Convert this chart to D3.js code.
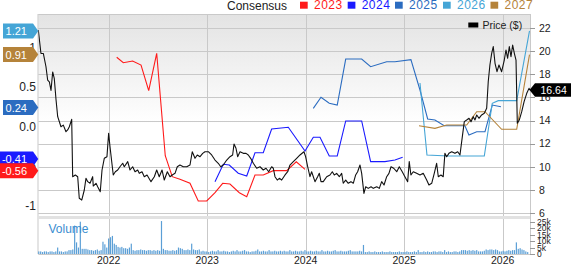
<!DOCTYPE html>
<html><head><meta charset="utf-8">
<script src="https://cdn.jsdelivr.net/npm/d3@7"></script>
<style>
html,body{margin:0;padding:0;background:#fff;}
svg{display:block;font-family:"Liberation Sans",Arial,sans-serif;}
</style></head>
<body><svg id="c" width="571" height="264"></svg>
<script>
// ---- data ----
const priceT = [2021.285,2021.312,2021.336,2021.363,2021.380,2021.397,2021.414,2021.431,2021.447,2021.465,
2021.482,2021.515,2021.539,2021.566,2021.583,2021.600,2021.624,2021.634,2021.661,2021.685,
2021.701,2021.726,2021.752,2021.769,2021.787,2021.810,2021.837,2021.843,2021.871,2021.888,
2021.914,2021.932,2021.955,2021.982,2021.999,2022.013,2022.046,2022.067,2022.091,2022.114,
2022.142,2022.158,2022.193,2022.216,2022.243,2022.267,2022.294,2022.310,2022.338,2022.361,
2022.389,2022.429,2022.463,2022.487,2022.513,2022.541,2022.564,2022.595,2022.622,2022.645,
2022.673,2022.696,2022.723,2022.757,2022.792,2022.825,2022.848,2022.876,2022.899,2022.927,
2022.954,2022.977,2023.011,2023.045,2023.079,2023.112,2023.137,2023.163,2023.198,2023.231,
2023.258,2023.272,2023.292,2023.309,2023.333,2023.366,2023.394,2023.417,2023.441,2023.468,
2023.502,2023.536,2023.569,2023.597,2023.624,2023.654,2023.671,2023.688,2023.711,2023.732,
2023.756,2023.790,2023.817,2023.840,2023.874,2023.908,2023.942,2023.982,2023.999,2024.020,
2024.043,2024.060,2024.094,2024.121,2024.138,2024.155,2024.178,2024.213,2024.246,2024.270,
2024.290,2024.314,2024.341,2024.365,2024.381,2024.406,2024.432,2024.459,2024.483,2024.507,
2024.527,2024.551,2024.568,2024.591,2024.609,2024.635,2024.663,2024.686,2024.721,2024.747,
2024.771,2024.795,2024.822,2024.845,2024.866,2024.893,2024.924,2024.950,2024.980,2025.007,
2025.035,2025.051,2025.068,2025.092,2025.126,2025.160,2025.193,2025.228,2025.251,2025.279,
2025.305,2025.329,2025.346,2025.373,2025.396,2025.413,2025.431,2025.454,2025.482,2025.515,
2025.543,2025.566,2025.590,2025.610,2025.634,2025.658,2025.678,2025.701,2025.718,2025.736,
2025.759,2025.786,2025.813,2025.837,2025.853,2025.870,2025.888,2025.904,2025.922,2025.942,
2025.962,2025.989,2026.016,2026.033,2026.050,2026.067,2026.084,2026.101,2026.118,2026.135,
2026.148,2026.168,2026.193,2026.217,2026.244,2026.267,2026.277];
const priceV = [21.83,19.8,19.8,18.65,17.5,17.35,16.6,18.2,17.65,15.8,
14.33,13.46,13.6,13.03,13.18,13.46,14.1,9.14,9.29,9.14,
7.27,7.12,7.99,9.0,8.71,8.57,9.14,8.33,8.57,8.27,
7.84,9.72,10.73,10.87,12.89,11.73,9.29,9.57,9.72,10.0,
10.3,10.0,10.44,9.72,10.0,9.57,9.72,9.43,9.57,9.14,
9.29,8.71,9.14,9.72,9.14,9.72,8.85,9.57,9.14,9.29,
9.43,10.0,10.15,10.0,10.0,10.15,11.3,10.73,11.02,10.87,
11.16,11.3,11.3,11.02,10.58,10.3,10.0,10.15,10.58,10.87,
11.02,11.97,11.6,10.87,11.3,11.16,11.16,11.02,10.73,10.3,
9.87,10.0,9.72,9.87,9.57,10.0,9.87,9.14,8.85,9.0,
8.85,9.29,9.57,10.15,10.44,10.73,11.02,11.3,10.87,10.0,
9.14,9.57,8.71,9.14,9.43,8.71,8.71,9.14,9.29,9.57,
9.29,9.43,9.14,9.43,8.57,8.85,8.57,8.71,8.57,9.29,
9.57,10.15,9.43,7.7,8.27,8.13,8.27,8.13,8.27,8.13,
8.71,8.42,9.14,9.43,10.0,9.87,9.57,10.0,9.57,9.14,
8.71,10.44,9.29,9.57,9.43,9.29,9.43,8.85,8.42,8.57,
9.43,10.3,9.14,9.29,9.14,11.16,10.87,11.16,11.3,11.16,
11.3,11.02,12.6,13.9,14.04,14.19,13.9,14.33,14.04,14.48,
14.19,14.48,14.62,15.05,17.35,18.8,19.81,20.4,18.95,18.22,
18.8,18.22,19.23,20.1,19.38,20.4,19.52,20.53,19.81,19.23,
13.76,14.04,14.76,15.63,16.35,16.78,16.64];

const eps2023T = [2022.081,2022.148,2022.243,2022.328,2022.406,2022.487,2022.574,2022.645,2022.723,2022.825,2022.909,2022.995,2023.079,2023.157,2023.231,2023.326,2023.401,2023.485,2023.569,2023.671,2023.807,2023.904,2023.993];
const eps2023V = [0.876,0.808,0.829,0.778,0.453,0.927,-0.37,-0.635,-0.668,-0.719,-0.943,-0.943,-0.838,-0.719,-0.728,-0.838,-0.889,-0.614,-0.614,-0.559,-0.559,-0.446,-0.542];
const eps2024T = [2023.079,2023.163,2023.224,2023.315,2023.401,2023.485,2023.569,2023.654,2023.823,2023.993,2024.077,2024.145,2024.239,2024.320,2024.406,2024.568,2024.659,2024.804,2024.906,2024.984];
const eps2024V = [-0.699,-0.478,-0.487,-0.592,-0.627,-0.332,-0.332,-0.032,-0.01,-0.31,-0.137,-0.137,-0.373,-0.373,0.07,0.07,-0.445,-0.445,-0.424,-0.39];
const eps2025T = [2024.077,2024.155,2024.239,2024.320,2024.406,2024.568,2024.659,2024.822,2024.906,2025.068,2025.160,2025.238,2025.312,2025.406,2025.616,2025.657,2025.736,2025.820,2025.894,2025.982];
const eps2025V = [0.23,0.37,0.294,0.272,0.854,0.854,0.757,0.82,0.82,0.847,0.462,0.095,0.082,0.01,0.01,-0.108,-0.066,-0.066,0.272,0.251];
const eps2026T = [2025.160,2025.231,2025.447,2025.813,2025.894,2025.955,2026.142,2026.272];
const eps2026V = [0.55,-0.361,-0.373,-0.373,0.294,0.327,0.327,1.21];
const eps2027T = [2025.150,2025.312,2025.431,2025.634,2025.736,2025.820,2025.989,2026.142,2026.272];
const eps2027V = [0.01,-0.023,0.019,0.019,0.187,0.187,-0.035,-0.035,0.91];

const seriesNames = ["2023","2024","2025","2026","2027"];
const seriesColors = ["#ff1a1a","#1a1aff","#2b6cc0","#45a5d6","#b5833a"];
const latestEps = [-0.56,-0.41,0.24,1.21,0.91];
const latestPrice = 16.64;

// weekly volume (thousands)
const volStart = 2021.29;
const volume = [2,2,1.5,2,2,1.5,2,2,1.5,2,
5,2,2,1.5,2,2,3,3,3.5,22,
9,5,25,4,4,4,3.5,3,3,2.5,
3,3.5,2.5,3,9.5,7.5,5,12,13,14,
8,7,5.5,5,5.5,4.5,4.5,4,5,8,
3,2.5,3,3,3.5,3,3,2.5,3,3,
2.5,3,2.5,3,2.5,25.5,4,3,3,2.5,
2.5,3,2.5,3,5,4.5,4,3,3,3.5,
3,8,3.5,3,3,3.5,2,2.5,2,2,
1.5,2,2.5,2,2,3,2,2,2.5,2,
2,1.5,2,2.5,2,3,2,2,2.5,3,
2,2,1.5,2,2,2.5,3.5,2,2,2.5,
2,2,3,2,2,2.5,2,2,2.5,2,
2.5,2,2,3,2,2,2.5,2,2,2.5,
2,3,2,2,2.5,2,2,2.5,2,2,
3,2,2,2.5,2,2,2.5,3,2,2,
2.5,2,2,2,2.5,3,2,2,2,2,
2.5,2,7,1.5,1.5,2,1.5,1.5,2,1.5,
1.5,1.5,2,1.5,1.5,1.5,2,1.5,1.5,1.5,
1.5,2,1.5,1.5,1.5,2,1.5,1.5,1.5,2,
1.5,3,1.5,1.5,2,1.5,2,1.5,1.5,2,
2,1.5,2,2,1.5,3,1.5,2,1.5,1.5,
2,2,1.5,2,3,3,3,2.5,3,2.5,
3,2.5,3,2,2,2,2.5,3.5,3,3.5,
3.5,3,3.5,3,2,2,2.5,2,2.5,3,
2.5,3,3,9,4,4.5,3.5,3,2,1.5];

const priceTicks = [6,8,10,12,14,16,18,20,22];
const epsTicks = [-1,-0.5,0,0.5,1];
const epsTickLabels = ["-1","-0.5","0.0","0.5","1"];
const volTicks = [0,5,10,15,20,25];
const volTickLabels = ["0","5k","10k","15k","20k","25k"];
const yearTicks = [2022,2023,2024,2025,2026];

// ---- layout ----
const L = 38.3, R = 530, T = 14, B = 213, VT = 219, VB = 254;
const svg = d3.select("#c");
const x = d3.scaleLinear().domain([2021.285, 2026.277]).range([L, R]);
const yP = d3.scaleLinear().domain([6, 22]).range([B, 28]);
const yE = d3.scaleLinear().domain([-1, 1]).range([205.5, 47.5]);
const yV = d3.scaleLinear().domain([0, 25]).range([VB, 221.7]);

const defs = svg.append("defs");
const g = defs.append("linearGradient").attr("id","bg").attr("x1",0).attr("y1",0).attr("x2",0).attr("y2",1);
g.append("stop").attr("offset","0%").attr("stop-color","#e3e3e3");
g.append("stop").attr("offset","55%").attr("stop-color","#ffffff");
g.append("stop").attr("offset","100%").attr("stop-color","#ffffff");
defs.append("clipPath").attr("id","clip").append("rect").attr("x",L).attr("y",T).attr("width",R-L).attr("height",B-T);

svg.append("rect").attr("x",L).attr("y",T).attr("width",R-L).attr("height",B-T).attr("fill","url(#bg)");

// gridlines
const grid = svg.append("g").attr("stroke","#c9c9c9").attr("stroke-width",1);
grid.selectAll("line.h").data(priceTicks).join("line")
  .attr("x1",L).attr("x2",R).attr("y1",d=>Math.round(yP(d))+0.5).attr("y2",d=>Math.round(yP(d))+0.5);
grid.selectAll("line.v").data(yearTicks).join("line")
  .attr("y1",T).attr("y2",VB).attr("x1",d=>Math.round(x(d))+0.5).attr("x2",d=>Math.round(x(d))+0.5);
grid.append("line").attr("x1",L).attr("x2",R).attr("y1",T+0.5).attr("y2",T+0.5);
grid.append("line").attr("x1",L-0.3).attr("x2",L-0.3).attr("y1",T).attr("y2",VB);
grid.append("line").attr("x1",R+0.5).attr("x2",R+0.5).attr("y1",T).attr("y2",VB);
// separator band
svg.append("rect").attr("x",L).attr("y",216).attr("width",R-L).attr("height",3).attr("fill","#e2e2e2");
svg.append("line").attr("x1",L).attr("x2",R).attr("y1",VB+0.5).attr("y2",VB+0.5).attr("stroke","#c9c9c9");

// volume bars
svg.append("g").selectAll("rect").data(volume).join("rect")
  .attr("x",(d,i)=>x(volStart + i/52.18)-0.6)
  .attr("width",1.2)
  .attr("y",d=>yV(d))
  .attr("height",d=>VB-yV(d))
  .attr("fill","#5b9fd6");
svg.append("text").attr("x",48.5).attr("y",232.5).attr("font-size",12).attr("fill","#3a8dd0").text("Volume");

// lines
const plot = svg.append("g").attr("clip-path","url(#clip)");
const epsT = [eps2023T,eps2024T,eps2025T,eps2026T,eps2027T];
const epsV = [eps2023V,eps2024V,eps2025V,eps2026V,eps2027V];
const lineE = d3.line().x(d=>x(d[0])).y(d=>yE(d[1]));
seriesNames.forEach((n,k)=>{
  plot.append("path").datum(d3.zip(epsT[k],epsV[k]))
    .attr("d",lineE).attr("fill","none").attr("stroke",seriesColors[k]).attr("stroke-width",1.1);
});
const lineP = d3.line().x(d=>x(d[0])).y(d=>yP(d[1]));
plot.append("path").datum(d3.zip(priceT,priceV)).attr("d",lineP)
  .attr("fill","none").attr("stroke","#111").attr("stroke-width",1.1).attr("stroke-linejoin","round");

// right axis
const ra = svg.append("g").attr("font-size",10.5).attr("fill","#222");
priceTicks.forEach(t=>{
  ra.append("line").attr("x1",R).attr("x2",R+5).attr("y1",Math.round(yP(t))+0.5).attr("y2",Math.round(yP(t))+0.5).attr("stroke","#999");
  ra.append("text").attr("x",539).attr("y",yP(t)+3.8).text(t);
});
const va = svg.append("g").attr("font-size",8.5).attr("fill","#222");
volTicks.forEach((t,i)=>{
  va.append("line").attr("x1",R).attr("x2",R+5).attr("y1",Math.round(yV(t))+0.5).attr("y2",Math.round(yV(t))+0.5).attr("stroke","#999");
  va.append("text").attr("x",537).attr("y",yV(t)+3).text(volTickLabels[i]);
});
// left axis
const la = svg.append("g").attr("font-size",12).attr("fill","#222").attr("text-anchor","end");
epsTicks.forEach((t,i)=>{
  la.append("text").attr("x",36).attr("y",yE(t)+4.2).text(epsTickLabels[i]);
});
// bottom axis
svg.append("g").attr("font-size",10.5).attr("fill","#222").attr("text-anchor","middle")
  .selectAll("text").data(yearTicks).join("text").attr("x",d=>x(d)).attr("y",263.5).text(d=>d);

// left badges
const order = [3,4,2,1,0];
order.forEach(k=>{
  const yc = yE(latestEps[k]);
  const label = latestEps[k].toFixed(2);
  const neg = latestEps[k] < 0;
  const x0 = neg ? 0 : 3;
  const pts = [[x0,yc-7.5],[33,yc-7.5],[38.3,yc],[33,yc+7.5],[x0,yc+7.5]];
  svg.append("path").attr("d",d3.line()(pts)+"Z").attr("fill",seriesColors[k]);
  svg.append("text").attr("x",27).attr("y",yc+4).attr("text-anchor","end").attr("font-size",11).attr("fill","#fff").text(label);
});
// right price badge
{
  const yc = yP(latestPrice);
  const pts = [[529.5,yc],[535,yc-6.7],[571,yc-6.7],[571,yc+6.7],[535,yc+6.7]];
  svg.append("path").attr("d",d3.line()(pts)+"Z").attr("fill","#000");
  svg.append("text").attr("x",540.5).attr("y",yc+3.8).attr("font-size",10.5).attr("fill","#fff").text(latestPrice.toFixed(2));
}

// legend
svg.append("text").attr("x",227).attr("y",9.5).attr("font-size",12).attr("fill","#222").text("Consensus");
const legX = [300,347.7,395,443,490.5];
seriesNames.forEach((n,k)=>{
  svg.append("rect").attr("x",legX[k]).attr("y",1.7).attr("width",7.7).attr("height",7).attr("fill",seriesColors[k]);
  svg.append("text").attr("x",legX[k]+14).attr("y",9.4).attr("font-size",12).attr("letter-spacing",0.5).attr("fill",seriesColors[k]).text(n);
});
svg.append("rect").attr("x",468.3).attr("y",22.5).attr("width",10).attr("height",5).attr("fill","#000");
svg.append("text").attr("x",482.5).attr("y",28.5).attr("font-size",10.5).attr("fill","#222").text("Price ($)");
</script></body></html>
